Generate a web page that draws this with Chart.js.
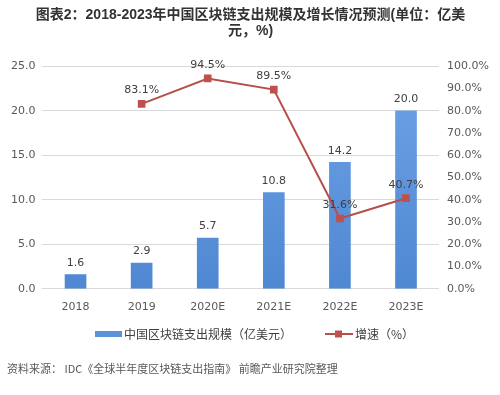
<!DOCTYPE html>
<html><head><meta charset="utf-8">
<script src="https://cdn.jsdelivr.net/npm/chart.js@4/dist/chart.umd.min.js"></script>
<style>html,body{margin:0;padding:0;background:#fff;}#wrap{width:500px;height:395px;position:relative;}</style>
</head><body>
<div id="wrap"><canvas id="c" width="500" height="395"></canvas></div>
<script>
const categories = ['2018','2019','2020E','2021E','2022E','2023E'];
const spending = [1.6, 2.9, 5.7, 10.8, 14.2, 20.0];
const growth = [null, 83.1, 94.5, 89.5, 31.6, 40.7];
const leftTicks = [0, 5, 10, 15, 20, 25];
const titleLines = ['图表2：2018-2023年中国区块链支出规模及增长情况预测(单位：亿美', '元，%)'];
const seriesNames = ['中国区块链支出规模（亿美元）', '增速（%）'];
const sourceText = '资料来源： IDC《全球半年度区块链支出指南》 前瞻产业研究院整理';

const CJK = '"Noto Sans CJK SC"';
const NUMF = '"DejaVu Sans", "Noto Sans CJK SC"';
const LINE_COLOR = '#b4504c';
const MARK_COLOR = '#c0504d';

const labelPlugin = {
  id: 'labels',
  afterDatasetsDraw(chart) {
    const ctx = chart.ctx;
    ctx.save();
    ctx.font = '11px ' + NUMF;
    ctx.fillStyle = '#404040';
    ctx.textAlign = 'center';
    ctx.textBaseline = 'bottom';
    chart.data.datasets.forEach((ds, di) => {
      const meta = chart.getDatasetMeta(di);
      meta.data.forEach((el, i) => {
        const v = ds.data[i];
        if (v == null) return;
        if (ds.type === 'bar') ctx.fillText(v.toFixed(1), el.x, el.y - 6);
        else ctx.fillText(v.toFixed(1) + '%', el.x, el.y - 8);
      });
    });
    ctx.restore();
  },
  afterDraw(chart) {
    const ctx = chart.ctx;
    ctx.save();
    const ly = 334;
    ctx.fillStyle = '#5b93d8';
    ctx.fillRect(95, ly - 3, 27, 6);
    ctx.font = '12px ' + CJK;
    ctx.fillStyle = '#404040';
    ctx.textBaseline = 'middle';
    ctx.textAlign = 'left';
    ctx.fillText(seriesNames[0], 124, ly);
    ctx.strokeStyle = LINE_COLOR;
    ctx.lineWidth = 2;
    ctx.beginPath(); ctx.moveTo(325, ly); ctx.lineTo(353, ly); ctx.stroke();
    ctx.fillStyle = MARK_COLOR;
    ctx.fillRect(335, ly - 3.5, 7, 7);
    ctx.fillStyle = '#404040';
    ctx.fillText(seriesNames[1], 355, ly);
    ctx.font = '11px ' + CJK;
    ctx.fillStyle = '#595959';
    ctx.fillText(sourceText, 7, 369);
    ctx.restore();
  }
};

const ctx = document.getElementById('c').getContext('2d');
const grad = ctx.createLinearGradient(0, 64, 0, 289);
grad.addColorStop(0, '#6ea3e6');
grad.addColorStop(1, '#4f88d2');

new Chart(ctx, {
  data: {
    labels: categories,
    datasets: [
      {
        type: 'line',
        label: seriesNames[1],
        data: growth,
        yAxisID: 'y1',
        borderColor: LINE_COLOR,
        borderWidth: 2,
        pointStyle: 'rect',
        pointRadius: 4,
        pointBackgroundColor: MARK_COLOR,
        pointBorderColor: MARK_COLOR,
        order: 0
      },
      {
        type: 'bar',
        label: seriesNames[0],
        data: spending,
        yAxisID: 'y',
        backgroundColor: grad,
        barThickness: 21,
        order: 1
      }
    ]
  },
  options: {
    responsive: false,
    animation: false,
    layout: { padding: { left: 4, right: 3, top: 0, bottom: 77 } },
    plugins: {
      legend: { display: false },
      tooltip: { enabled: false },
      title: {
        display: true,
        text: titleLines,
        color: '#333333',
        font: { family: 'Liberation Sans, "Noto Sans CJK SC"', size: 14, weight: 'bold', lineHeight: 1.15 },
        padding: { top: 7, bottom: 27 }
      }
    },
    scales: {
      x: {
        grid: { display: false },
        border: { display: false },
        ticks: { color: '#595959', font: { family: NUMF, size: 11 }, padding: 4 }
      },
      y: {
        position: 'left',
        min: 0, max: 25,
        afterBuildTicks(axis) { axis.ticks = leftTicks.map(v => ({ value: v })); },
        grid: { color: '#d9d9d9', drawTicks: false },
        border: { display: false },
        ticks: { color: '#595959', font: { family: NUMF, size: 11 }, padding: 7, callback: v => Number(v).toFixed(1) }
      },
      y1: {
        position: 'right',
        min: 0, max: 100,
        ticks: { stepSize: 10, color: '#595959', font: { family: NUMF, size: 11 }, padding: 8, callback: v => Number(v).toFixed(1) + '%' },
        grid: { display: false, drawTicks: false },
        border: { display: false }
      }
    }
  },
  plugins: [labelPlugin]
});
</script>
</body></html>
